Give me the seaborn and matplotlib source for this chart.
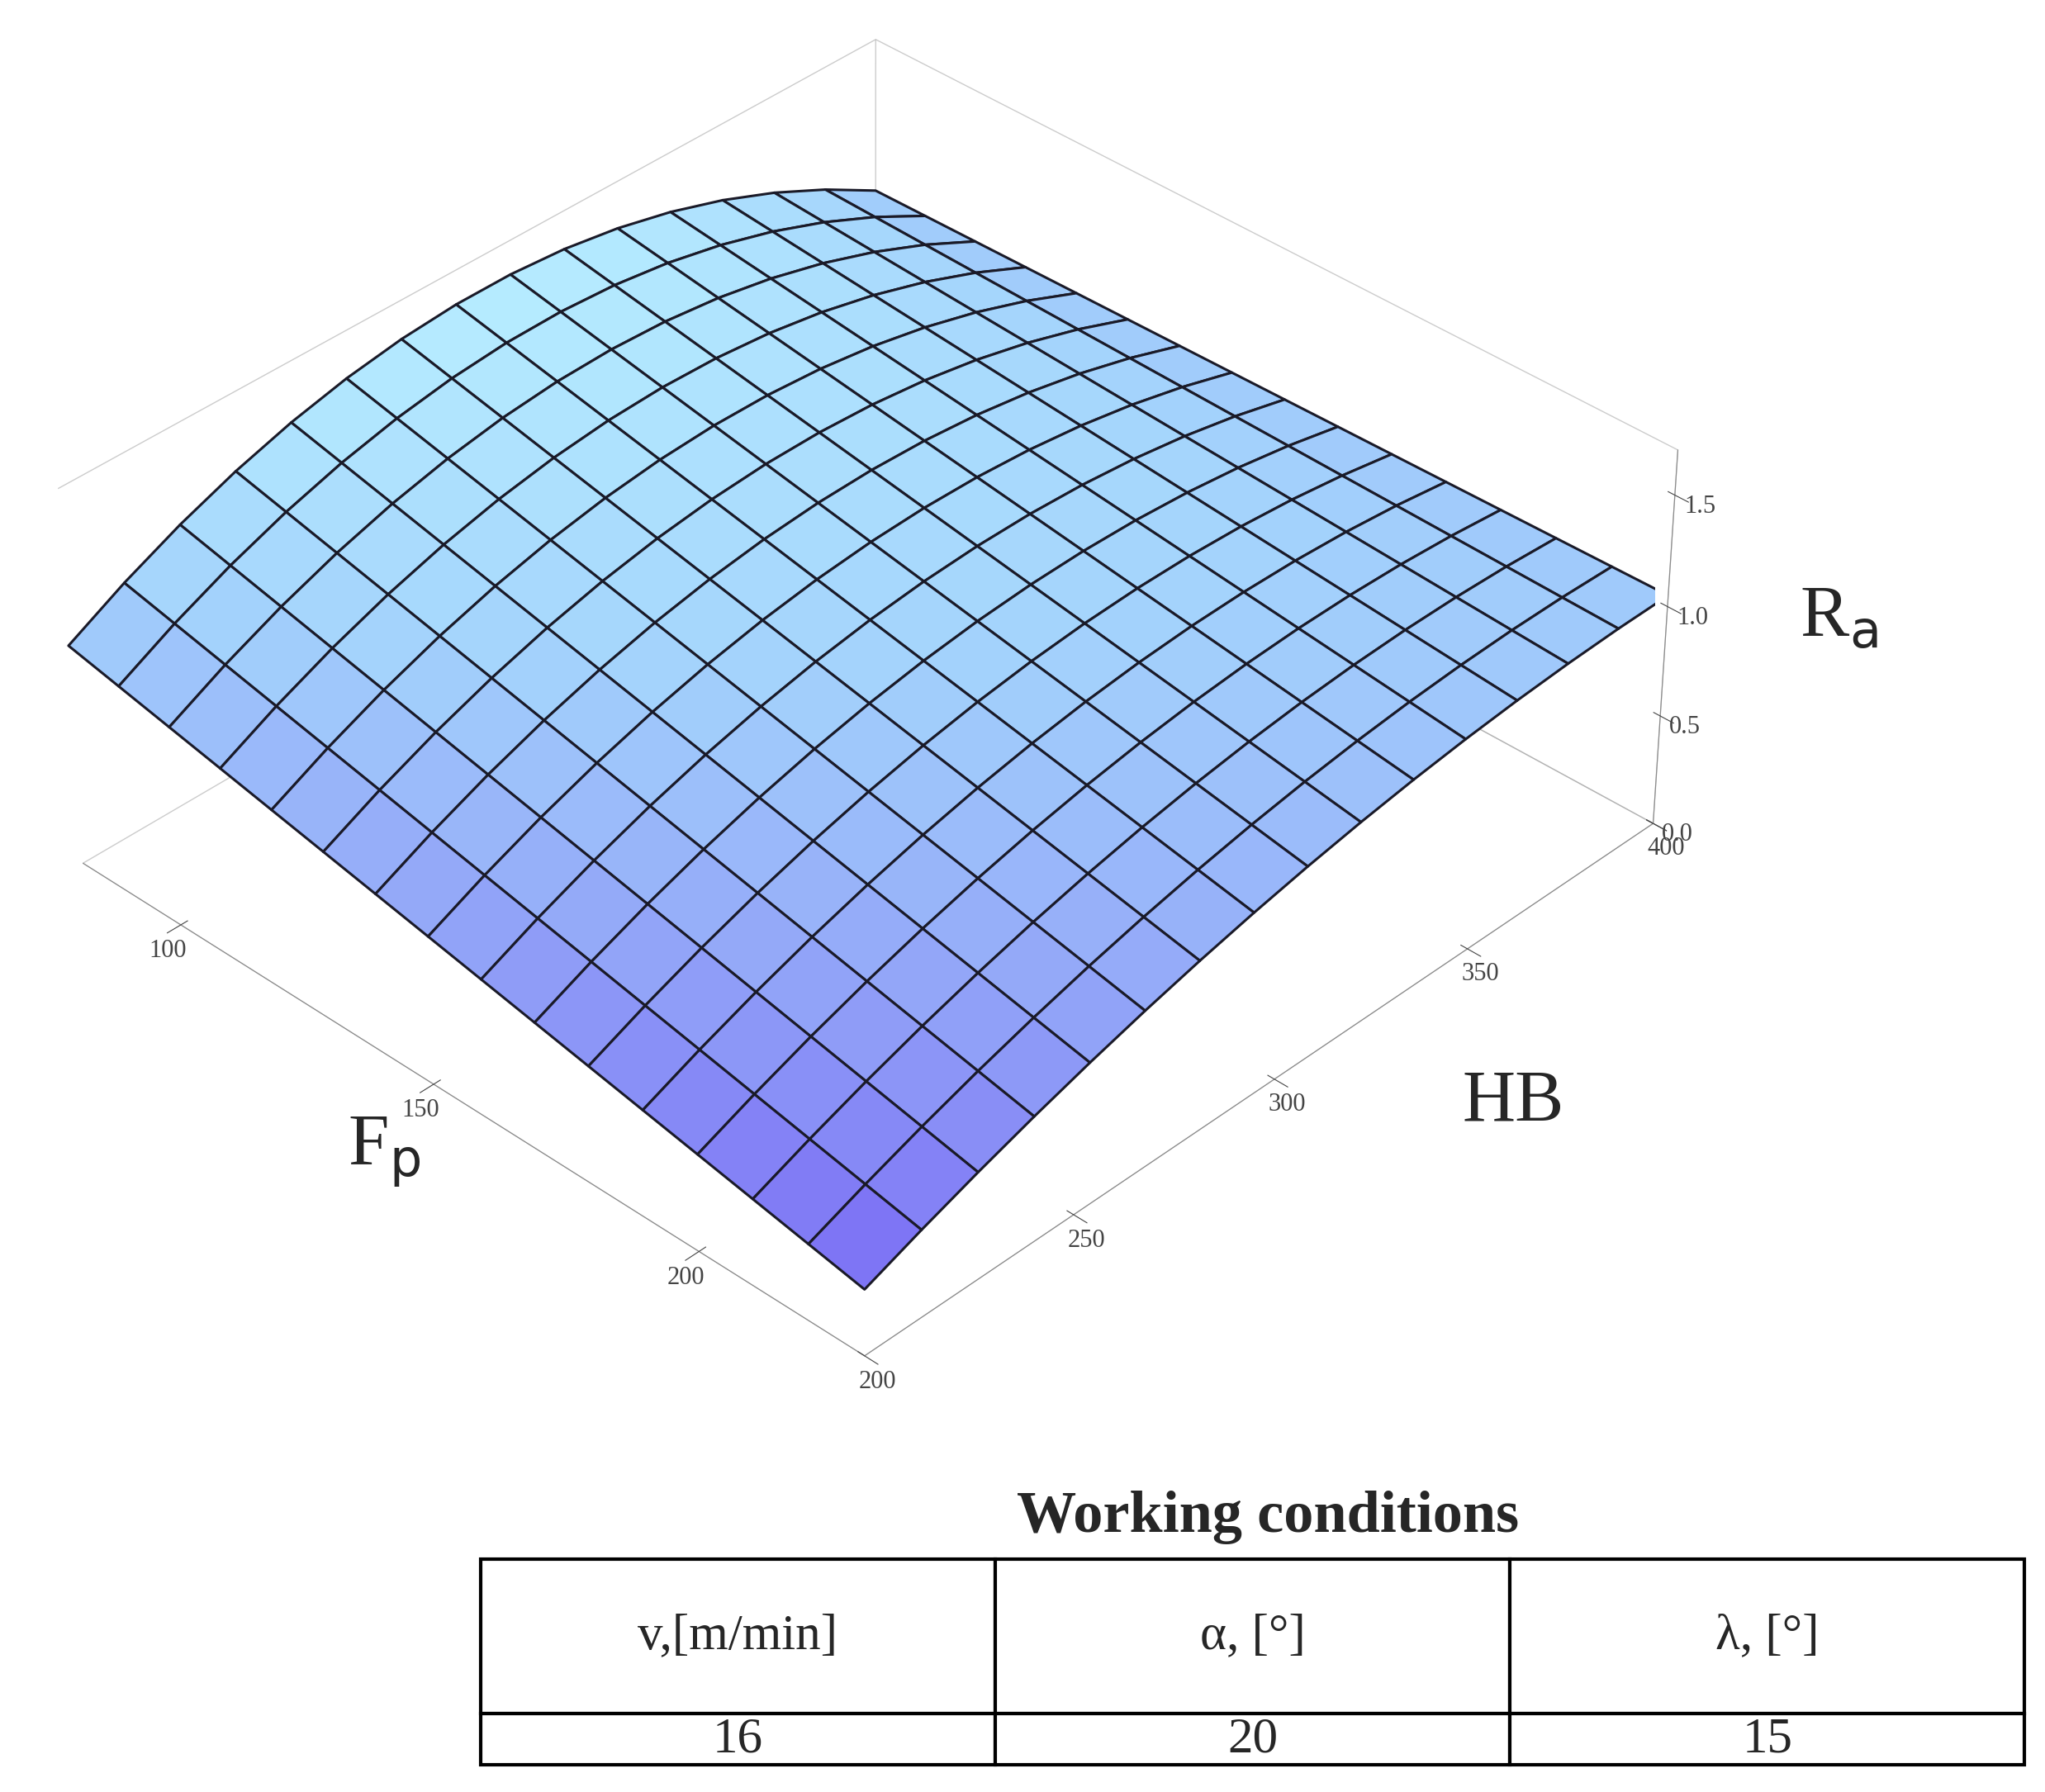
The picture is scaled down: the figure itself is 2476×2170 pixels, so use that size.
import numpy as np
import matplotlib.pyplot as plt
import seaborn as sns
from matplotlib.colors import LinearSegmentedColormap

sns.set_style('white')
plt.rcParams['font.family'] = ['Liberation Serif', 'DejaVu Serif']

# model:
# Ra = c0 + c1*h + c2*h^2 + c3*f + c4*f*h + c5*f*h^2, with h = HB - 200, f = Fp - 80
coef = [1.0, 0.011, -5.5e-5, -0.004667, -2.333e-5, 2.417e-7]
fp_range = [80, 230]
hb_range = [200, 400]
fp_ticks = [100, 150, 200]
hb_ticks = [200, 250, 300, 350, 400]
ra_ticks = [0.0, 0.5, 1.0, 1.5]
cond_cols = ['v,[m/min]', 'α, [°]', 'λ, [°]']
cond_vals = ['16', '20', '15']

fp = np.linspace(fp_range[0], fp_range[1], 16)
hb = np.linspace(hb_range[0], hb_range[1], 16)
F, H = np.meshgrid(fp, hb, indexing='ij')
h = H - 200
f = F - 80
Z = (coef[0] + coef[1]*h + coef[2]*h**2 + coef[3]*f + coef[4]*f*h
     + coef[5]*f*h**2)

fig = plt.figure(figsize=(24.76, 21.7), dpi=100)
ax = fig.add_axes([-0.16, 0.17, 1.15, 0.9], projection='3d')
cmap = LinearSegmentedColormap.from_list('mm', ['#7a6cf4', '#92a4f8', '#a4d4fc', '#b6ecff'])
ax.plot_surface(F, H, Z, rstride=1, cstride=1, cmap=cmap, vmin=0.3, vmax=1.55,
                edgecolor='#1a1a28', linewidth=2.2, antialiased=True, shade=False)
ax.set_xlim(fp_range)
ax.set_ylim(hb_range)
ax.set_zlim(0, 1.7)
ax.view_init(elev=36, azim=-46)
ax.set_box_aspect((1.0, 1.05, 0.42))
for a in (ax.xaxis, ax.yaxis, ax.zaxis):
    a.pane.fill = False
    a.pane.set_edgecolor('#999999')
    a._axinfo['grid']['linewidth'] = 0
    a.line.set_color('#888888')
ax.grid(False)
ax.set_xticks(fp_ticks)
ax.set_yticks(hb_ticks)
ax.set_zticks(ra_ticks)
ax.set_zticklabels(['0.0', '0.5', '1.0', '1.5'])
ax.tick_params(labelsize=22, colors='#444444')
ax.zaxis.set_ticks_position('upper')

fig.text(0.17, 0.35, 'F$_\\mathrm{p}$', fontsize=64)
fig.text(0.715, 0.375, 'HB', fontsize=64)
fig.text(0.88, 0.645, 'R$_\\mathrm{a}$', fontsize=64)

fig.text(0.62, 0.145, 'Working conditions', fontsize=52, fontweight='bold', ha='center')
tax = fig.add_axes([0.235, 0.015, 0.755, 0.115])
tax.axis('off')
tbl = tax.table(cellText=[cond_vals], colLabels=cond_cols, cellLoc='center',
                loc='center', bbox=[0, 0, 1, 1])
tbl.auto_set_font_size(False)
for (r, c), cell in tbl.get_celld().items():
    cell.set_linewidth(3)
    cell.set_text_props(fontsize=44)
    if r == 0:
        cell.set_height(0.75)
    else:
        cell.set_height(0.25)

fig.savefig('out.png', dpi=100)
